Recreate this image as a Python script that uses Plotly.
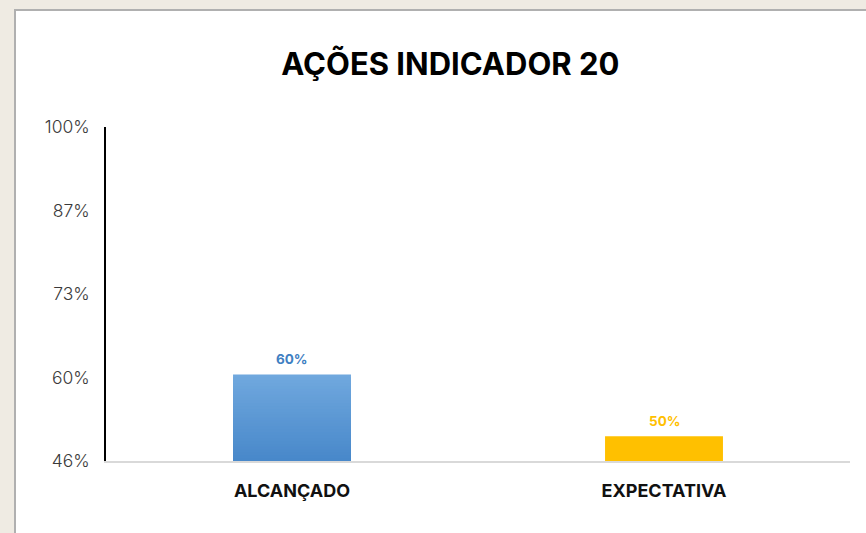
import plotly.graph_objects as go

categories = ["ALCANÇADO", "EXPECTATIVA"]
values = [60, 50]
tick_vals = [46, 59.5, 73, 86.5, 100]
tick_text = ["46%", "60%", "73%", "87%", "100%"]
title_text = "AÇÕES INDICADOR 20"

axis_min, axis_max = 46, 100
bar_width = 0.317
FONT = "Inter"

fig = go.Figure()

# gradient blue bar built as overlaid layers (light top, darker bottom)
N = 30
top_rgb = (0x70, 0xA8, 0xDE)
bot_rgb = (0x48, 0x88, 0xCA)
v0 = values[0]
for i in range(N):
    frac = 1 - i / N
    t = i / (N - 1)
    c = tuple(round(top_rgb[k] + (bot_rgb[k] - top_rgb[k]) * t) for k in range(3))
    fig.add_trace(go.Bar(
        x=[categories[0]], y=[(v0 - axis_min) * frac], base=axis_min,
        width=bar_width, marker=dict(color="rgb(%d,%d,%d)" % c, line=dict(width=0)),
        hoverinfo="skip", showlegend=False))

fig.add_trace(go.Bar(
    x=[categories[1]], y=[values[1] - axis_min], base=axis_min,
    width=bar_width, marker=dict(color="#FFC000", line=dict(width=0)),
    hoverinfo="skip", showlegend=False))

label_colors = ["#3F80C2", "#FFC000"]
for cat, v, col in zip(categories, values, label_colors):
    fig.add_annotation(x=cat, y=v, text="<b>%d%%</b>" % v, showarrow=False,
                       yanchor="bottom", yshift=5,
                       font=dict(family=FONT, size=13.5, color=col))

# white panel with gray border on a parchment page
fig.add_shape(type="rect", xref="paper", yref="paper",
              x0=-0.1223, x1=1.05, y0=-0.3, y1=1.350,
              fillcolor="white", line=dict(color="#B0B0B0", width=2), layer="below")

fig.update_layout(
    width=866, height=533,
    margin=dict(l=106, r=16, t=127, b=72),
    paper_bgcolor="#EFEBE3",
    plot_bgcolor="white",
    barmode="overlay",
    title=dict(text="<b>" + title_text + "</b>", x=0.52, xanchor="center",
               y=0.88, yanchor="middle",
               font=dict(family=FONT, size=31, color="#000000")),
    xaxis=dict(type="category", categoryorder="array", categoryarray=categories,
               showline=True, linecolor="#D9D9D9", linewidth=2,
               showgrid=False, ticks="", ticklabelstandoff=12,
               tickfont=dict(family=FONT, size=18, color="#111111", weight=700),
               fixedrange=True),
    yaxis=dict(range=[axis_min, axis_max], tickvals=tick_vals, ticktext=tick_text,
               showline=True, linecolor="#000000", linewidth=1.5,
               showgrid=False, zeroline=False, ticks="", ticklabelstandoff=11,
               tickfont=dict(family=FONT, size=17.5, color="#3A3A3A", weight=300),
               fixedrange=True),
)

fig.write_html("out.html", config={"displayModeBar": False},
               post_script="document.body.style.margin='0';document.body.style.padding='0';")
